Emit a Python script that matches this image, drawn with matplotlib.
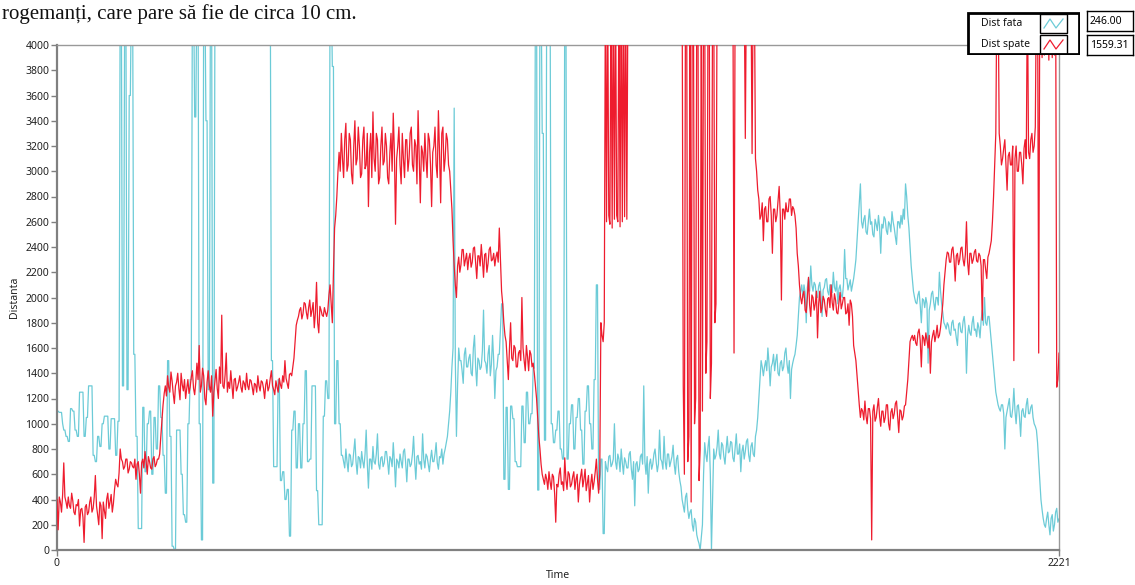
import numpy as np
import matplotlib
matplotlib.use("Agg")
import matplotlib.pyplot as plt
from matplotlib.patches import Rectangle

# sensor readings, one value every ~2.5 samples (values above 4000 are off scale)
dist_fata = [
    1100, 1100, 1090, 1090, 1090, 1000, 950, 950, 900, 900, 860, 860, 1120, 1120, 1100, 1100, 950, 950, 900, 900,
    1250, 1250, 1250, 1250, 900, 900, 1050, 1050, 1300, 1300, 1300, 1300, 750, 750, 700, 700, 900, 900, 820, 820,
    1000, 1000, 1060, 1060, 1060, 1060, 800, 800, 1040, 1040, 1040, 1040, 750, 750, 1020, 1020,
    4500, 4500, 1300, 1300, 4500, 4500, 1270, 1270, 3600, 3600, 4500, 4500, 1550, 1550, 900, 900, 170, 170,
    170, 170, 1130, 1130, 620, 620, 1000, 1000, 1100, 1100, 600, 600, 1050, 1050, 800, 800, 1300, 1300,
    1050, 1050, 750, 750, 450, 450, 1500, 1500, 900, 900, 30, 30, 0, 0, 950, 950, 950, 950, 600, 600,
    280, 280, 220, 220, 1000, 1000, 1350, 1350, 4500, 4500, 3430, 3430, 4500, 4500, 1000, 1000, 80, 80,
    4500, 4500, 3400, 3400, 1270, 1270, 4500, 4500, 530, 530,
    4500, 4500, 4500, 4500, 4500, 4500, 4500, 4500, 4500, 4500, 4500, 4500, 4500, 4500, 4500, 4500, 4500, 4500,
    4500, 4500, 4500, 4500, 4500, 4500, 4500, 4500, 4500, 4500, 4500, 4500, 4500, 4500, 4500, 4500, 4500, 4500,
    4500, 4500, 4500, 4500, 4500, 4500, 4500, 4500, 4500, 4500, 4500, 4500, 4500, 4500,
    1500, 1500, 660, 660, 660, 660, 1350, 1350, 550, 550, 620, 620, 400, 400, 480, 480, 110, 110, 950, 950,
    1100, 1100, 650, 650, 1000, 1000, 650, 650, 1000, 1000, 1420, 1420, 700, 700, 720, 720, 1300, 1300,
    1300, 1300, 470, 470, 200, 200, 200, 200, 1060, 1060, 1340, 1340, 1200, 1200, 4500, 4500, 3830, 3830,
    1000, 1000, 1500, 1500, 1000, 1000, 750, 750,
    700, 650, 800, 700, 620, 760, 750, 660, 680, 780, 880, 700, 600, 740, 730, 650, 780, 700, 650, 760,
    950, 680, 490, 720, 720, 640, 820, 700, 680, 760, 920, 680, 640, 730, 740, 660, 690, 780, 780, 700,
    600, 740, 720, 660, 850, 700, 500, 720, 700, 650, 760, 700, 650, 780, 800, 690, 540, 720, 720, 660,
    680, 760, 900, 700, 560, 740, 750, 680, 700, 640, 920, 720, 650, 760, 740, 680, 620, 720, 790, 700,
    700, 760, 850, 690, 640, 740, 730, 800, 680, 760, 800, 850,
    900, 1000, 1100, 1250, 1450, 1600, 3500, 1500, 900, 1300, 1600, 1500,
    1500, 1420, 1320, 1550, 1600, 1450, 1450, 1520, 1550, 1400, 1380, 1600, 1700, 1450, 1300, 1520, 1500, 1430,
    1450, 1580, 1900, 1500, 1480, 1400, 1550, 1620, 1380, 1470, 1700, 1500, 1200, 1420, 1450, 1550, 1550, 1750,
    1950, 1950, 560, 560, 1130, 1130, 480, 480, 1140, 1140, 1040, 1040, 700, 700, 660, 660, 660, 660,
    1140, 1140, 850, 850, 1250, 1250, 1000, 1000, 1080, 1080, 1440, 1440, 4500, 4500,
    475, 475, 4500, 4500, 3300, 3300, 870, 870, 4500, 4500, 4500, 4500,
    1000, 1000, 850, 850, 950, 950, 1100, 1100, 800, 800, 720, 720, 4500, 4500, 720, 720, 1000, 1000,
    1150, 1150, 800, 800, 1050, 1050, 1200, 1200, 950, 950, 680, 680, 1100, 1100, 1300, 1300, 1000, 1000,
    800, 800, 1350, 1350, 2100, 2100, 480, 480, 720, 720, 130, 130,
    700, 650, 620, 740, 750, 660, 680, 720, 1000, 700, 640, 760, 720, 620, 800, 690, 600, 730, 700, 650,
    650, 760, 780, 640, 560, 700, 350, 680, 700, 620, 640, 740, 760, 680, 1300, 700, 600, 740, 450, 680,
    720, 640, 680, 760, 800, 700, 620, 680, 950, 720, 700, 640, 900, 700, 640, 760, 760, 660, 700, 740,
    830, 680, 600, 720, 750, 620, 550, 500,
    400, 350, 300, 420, 450, 320, 250, 300, 320, 200, 150, 250, 220, 120, 80, 50, 0, 100, 200, 600,
    850, 760, 700, 820, 900, 600, 0, 400, 800, 720,
    750, 820, 950, 760, 720, 850, 830, 740, 680, 800, 900, 770, 780, 860, 850, 730, 700, 810, 920, 760,
    760, 840, 620, 780, 830, 720, 780, 860, 880, 750, 700, 820, 850, 760, 740, 900, 950, 1050,
    1200, 1350, 1500, 1450, 1380, 1450,
    1500, 1420, 1600, 1480, 1300, 1450, 1480, 1550, 1420, 1500, 1550, 1400, 1380, 1480, 1500, 1420, 1450, 1560,
    1600, 1470, 1400, 1500, 1200, 1430, 1480, 1520, 1550, 1620,
    1700, 1850, 2000, 2050, 2100, 2000,
    2100, 2040, 1800, 2080, 2150, 2050, 2250, 2100, 2050, 2120, 2100, 2000, 2000, 2090, 2120, 2030, 1850, 2060,
    2080, 2140, 2150, 2050, 2020, 2100, 2100, 2040, 2200, 2080, 2050, 2130, 1950, 2070, 2100, 2020, 2000, 2100,
    2380, 2150, 2150, 2060, 2100, 2140, 2050, 2100, 2150, 2220,
    2300, 2450, 2600, 2750, 2900, 2600,
    2550, 2620, 2650, 2520, 2500, 2600, 2700, 2580, 2600, 2500, 2480, 2620, 2580, 2530, 2650, 2560, 2350, 2580,
    2550, 2640, 2620, 2530, 2500, 2600, 2580, 2520, 2680, 2600, 2550, 2480, 2420, 2600, 2600, 2550, 2650, 2580,
    2700, 2620, 2900, 2800,
    2650, 2550, 2400, 2250, 2150, 2050, 2000, 1960,
    1950, 2020, 2050, 1940, 1800, 1990, 1980, 1920, 2000, 1950, 1480, 1900, 1950, 2030, 2050, 1960, 1900, 2000,
    2000, 1940, 2200, 2050,
    1950, 1880, 1800, 1780, 1750, 1800,
    1780, 1720, 1700, 1800, 1820, 1740, 1750, 1680, 1620, 1790, 1800, 1730, 1720, 1810, 1850, 1750, 1400, 1700,
    1780, 1720, 1700, 1800, 1850, 1740, 1750, 1690, 1800, 1760, 1680, 1820, 1900, 1780, 2000, 1800, 1780, 1850,
    1850, 1750,
    1650, 1550, 1450, 1350, 1250, 1200, 1150, 1120, 1100, 1150,
    1150, 1080, 800, 1050, 1100, 1150, 1200, 1060, 1050, 1120, 1280, 1100, 1000, 1140, 1150, 1050, 900, 1100,
    1120, 1060, 1050, 1150, 1200, 1080, 1080, 1130, 1150, 1050, 1000, 980,
    950, 850, 700, 550, 400, 320, 250, 200, 180, 250,
    300, 200, 120, 250, 280, 150, 200, 300, 330, 220, 246,
]

dist_spate = [
    400, 160, 420, 380, 300, 440, 690, 420, 380, 330, 420, 350, 330, 450, 390, 300, 280, 360, 350, 400,
    190, 320, 330, 260, 60, 340, 360, 280, 300, 380, 420, 300, 330, 420, 590, 350, 280, 200, 380, 350,
    90, 380, 310, 250, 400, 450, 330, 380, 440, 300, 370, 480,
    560, 520, 500, 610, 800, 720,
    700, 640, 660, 720, 720, 610, 640, 700, 690, 660, 650, 720, 560, 680, 700, 600, 450, 690, 720, 650,
    780, 700, 600, 740, 700, 650, 640, 720, 740, 660, 680, 720, 720, 760,
    900, 1020, 1150, 1240,
    1300, 1220, 1380, 1290, 1250, 1410, 1340, 1240, 1160, 1300, 1330, 1400, 1280, 1190, 1400, 1310, 1260, 1350,
    1200, 1280, 1350, 1240, 1290, 1370, 1420, 1280, 1230, 1330, 1480, 1350, 1620, 1250, 1300, 1440, 1380, 1200,
    1150, 1330, 1420, 1300, 1250, 1380, 1060, 1250, 1340, 1430, 1280, 1200, 1450, 1320, 1860, 1300, 1280, 1390,
    1560, 1250, 1330, 1280, 1420, 1310, 1200, 1350, 1360, 1260, 1290, 1330, 1380, 1290, 1250, 1340, 1320, 1270,
    1400, 1300, 1270, 1350, 1340, 1290, 1230, 1320, 1310, 1250, 1380, 1300, 1260, 1340, 1330, 1280, 1200, 1310,
    1350, 1260, 1290, 1360, 1420, 1300, 1270, 1230, 1340, 1290, 1250, 1360, 1310, 1280, 1380, 1330, 1500, 1360,
    1320, 1280, 1390, 1400,
    1380, 1450, 1520, 1650, 1780, 1820, 1850, 1900,
    1920, 1830, 1870, 1960, 1950, 1880, 1830, 1920, 1980, 1850, 1900, 1960, 1760, 1880, 2120, 1800, 1720, 1930,
    1900, 1860, 1850, 1920, 1880, 1850,
    1900, 2020, 2100, 1950, 1800, 2200, 2550, 2650, 2800, 3000,
    3150, 3000, 3300, 3100, 2950, 3250, 3380, 3000, 3050, 3300, 3250, 2980, 2900, 3200, 3400, 3050, 3100, 3350,
    3200, 2950, 2980, 3250, 3350, 3020, 3050, 3300, 2720, 3150, 3300, 2950, 3470, 3100, 3000, 3300, 3250, 2900,
    2950, 3200, 3350, 3050, 3080, 3300, 3200, 2950, 2900, 3150, 3300, 3000, 3460, 3150, 2580, 3100, 3200, 3350,
    3050, 2900, 3300, 3100, 2950, 3250, 3250, 3000, 3100, 3300, 3350, 3050, 3000, 3250, 3200, 2900, 3480, 3100,
    2750, 3200, 3150, 3000, 3300, 3100, 2950, 3300, 3250, 3050, 2720, 3150, 3200, 3350, 3050, 2950, 3480, 3150,
    2750, 3300, 3350, 3000, 3100, 3300, 3250, 3050, 3000, 2850,
    2700, 2450, 2250, 2100,
    2000, 2250, 2320, 2200, 2260, 2380, 2380, 2250, 2300, 2350, 2220, 2310, 2350, 2240, 2280, 2390, 2400, 2270,
    2150, 2330, 2330, 2250, 2420, 2300, 2160, 2340, 2350, 2200, 2270, 2380, 2400, 2290, 2300, 2350, 2250, 2320,
    2360, 2280, 2550, 2300,
    2050, 1950, 1800, 1700,
    1650, 1500, 1350, 1600, 1800, 1520, 1500, 1620, 1600, 1450, 1450, 1560, 1580, 1500, 2000, 1600, 1500, 1420,
    1620, 1530, 1420, 1580, 1550, 1450, 1480, 1400,
    1300, 1200, 1050, 900, 800, 680, 600, 560, 520, 600,
    560, 480, 620, 540, 480, 600, 580, 450, 220, 520, 500, 600, 650, 520, 540, 470, 730, 560, 480, 620,
    600, 500, 520, 580, 620, 480, 560, 600, 380, 520, 580, 640, 500, 560, 640, 470, 530, 590, 380, 520,
    600, 480, 540, 620, 720, 560, 450, 600,
    1800, 1700, 1650, 1800,
    4500, 2600, 4500, 2650, 2580, 4500, 2550, 4500, 2620, 4500, 2650, 2600, 4500, 2560, 4500, 2600, 4500, 2640,
    4500, 2620,
    4500, 4500, 4500, 4500, 4500, 4500, 4500, 4500, 4500, 4500, 4500, 4500, 4500, 4500, 4500, 4500, 4500, 4500,
    4500, 4500, 4500, 4500, 4500, 4500, 4500, 4500, 4500, 4500, 4500, 4500, 4500, 4500, 4500, 4500, 4500, 4500,
    4500, 4500, 4500, 4500, 4500, 4500, 4500, 4500, 4500, 4500, 4500, 4500,
    4500, 1300, 600, 4500, 4500, 700, 900, 4500, 380, 4500, 4500, 1000, 1200, 4500, 4500, 550, 800, 4500,
    1100, 4500, 4500, 1400, 1650, 4500, 4500, 1200, 1480, 4500, 4500, 1800, 1950, 4500, 4500, 4500, 4500, 4500,
    4500, 4500, 4500, 4500, 4500, 4500, 4500, 4500, 4500, 4500, 1560, 4500, 4500, 4500, 4500, 4500, 4500, 4500,
    4500, 4500, 3260, 4500, 4500, 4500, 4500, 4500, 3140, 4500, 4500, 3100, 3000, 2850,
    2780, 2620, 2650, 2750, 2450, 2700, 2720, 2600, 2600, 2780, 2800, 2650, 2350, 2700, 2700, 2600, 2650, 2760,
    2880, 2650, 1980, 2700, 2700, 2620, 2750, 2680, 2680, 2780, 2780, 2650, 2720, 2700, 2650, 2550, 2350, 2250,
    2100, 2000,
    1950, 2020, 2050, 1900, 1880, 2000, 2160, 1940, 1850, 2020, 2000, 1900, 1950, 2050, 1680, 1950, 2050, 1880,
    1920, 2010, 1980, 1900, 1850, 1990, 2000, 1920, 2100, 1960, 1900, 2030, 1980, 1880, 1870, 1960, 2040, 1910,
    1950, 2000, 2000, 1870, 1880, 1950, 1780, 1980, 1950, 1850, 1620, 1560,
    1500, 1380, 1250, 1150, 1050, 1120,
    1100, 1030, 1180, 1060, 1000, 1120, 1120, 1040, 80, 1100, 1150, 1020, 1050, 1130, 1200, 1060, 980, 1100,
    1100, 1010, 1050, 1150, 1150, 1000, 950, 1090, 1120, 1040, 1080, 1160, 1180, 1050, 930, 1110, 1100, 1030,
    1060, 1140, 1150, 1250,
    1350, 1500, 1650, 1680, 1700, 1660,
    1700, 1640, 1620, 1720, 1750, 1660, 1450, 1700, 1680, 1620, 1720, 1660, 1600, 1700, 1400, 1650, 1700, 1740,
    1650, 1700, 1780, 1680, 1700, 1760,
    1850, 1950, 2100, 2200, 2300, 2360,
    2350, 2280, 2280, 2380, 2400, 2300, 2130, 2330, 2350, 2260, 2300, 2390, 2400, 2300, 2250, 2340, 2600, 2280,
    2180, 2350, 2350, 2270, 2300, 2360, 2380, 2290, 2280, 2350, 2330, 2250, 1820, 2300, 2300, 2220, 2150, 2320,
    2350, 2400,
    2450, 2600, 2800, 3050, 3300, 4500, 4500, 3300, 3200, 3050,
    3100, 3180, 3250, 3050, 2850, 3120, 3150, 3050, 3050, 3200, 1500, 3100, 3200, 3000, 3000, 3150, 3150, 3050,
    2900, 3180, 3250, 3100, 4500, 3150, 3100, 3250, 3300, 3150, 3200, 3350,
    4500, 4500, 1560, 4500, 4500, 3900, 4500, 3920, 4500, 3950, 4500, 3880, 4500, 4500, 3900, 4500, 3920, 4500,
    1290, 1350, 1559.31,
]

n_samples = 2221
y_ticks = list(range(0, 4001, 200))
names = ["Dist fata", "Dist spate"]
cyan = "#6ccbd7"
red = "#ee1c2e"
grey = "#808080"

plt.rcParams["font.family"] = ["Noto Sans", "DejaVu Sans"]

fig = plt.figure(figsize=(11.35, 5.85), dpi=100)
W, H = 1135, 585
ax = fig.add_axes([57 / W, 1 - 550 / H, (1059 - 57) / W, (550 - 45) / H])

t_fata = np.linspace(0, n_samples, len(dist_fata))
t_spate = np.linspace(0, n_samples, len(dist_spate))
ax.plot(t_fata, dist_fata, color=cyan, lw=0.9, zorder=2)
ax.plot(t_spate, dist_spate, color=red, lw=0.9, zorder=3)

ax.set_xlim(0, n_samples)
ax.set_ylim(0, 4000)
ax.set_yticks(y_ticks)
ax.set_xticks([0, n_samples])
ax.tick_params(axis="both", length=4, width=1, color=grey, labelsize=7.5, pad=1.5, labelcolor="#222222")
for side in ["top", "right"]:
    ax.spines[side].set_color("#999999")
    ax.spines[side].set_linewidth(1.0)
for side in ["left", "bottom"]:
    ax.spines[side].set_color(grey)
    ax.spines[side].set_linewidth(1.6)

ax.set_ylabel("Distanta", fontsize=7.5, labelpad=4, color="#222222")
ax.set_xlabel("Time", fontsize=7.5, labelpad=1, color="#222222")

# line of document text above the graph
fig.text(0.002, 1 - 19 / H, "rogemanți, care pare să fie de circa 10 cm.",
         family=["Liberation Serif", "DejaVu Serif"], fontsize=15, va="baseline", color="#111111")

# LabVIEW style plot legend
lg = fig.add_axes([967 / W, 1 - 55 / H, (1080 - 967) / W, (55 - 12) / H])
lg.set_xlim(967, 1080)
lg.set_ylim(55, 12)
lg.axis("off")
lg.add_patch(Rectangle((968, 13), 111, 41, fill=True, fc="white", ec="black", lw=2))
for i, (name, col) in enumerate(zip(names, [cyan, red])):
    y0 = 14 + i * 21
    lg.text(981, y0 + 9, name, fontsize=7.5, va="center", ha="left", color="#111111")
    lg.add_patch(Rectangle((1040, y0), 27, 19, fill=False, ec="black", lw=1))
    lg.plot([1044, 1050, 1056, 1063], [y0 + 14, y0 + 5, y0 + 14, y0 + 5], color=col, lw=0.9)

# current value boxes
last_vals = [dist_fata[-1], dist_spate[-1]]
for i, v in enumerate(last_vals):
    y0 = 11 + i * 24
    bx = fig.add_axes([1087 / W, 1 - (y0 + 20) / H, 46 / W, 20 / H])
    bx.set_xticks([])
    bx.set_yticks([])
    for s in bx.spines.values():
        s.set_linewidth(1)
        s.set_color("black")
    bx.text(0.06, 0.5, f"{v:.2f}", fontsize=7.5, va="center", ha="left", transform=bx.transAxes)

fig.savefig("out.png", dpi=100)
